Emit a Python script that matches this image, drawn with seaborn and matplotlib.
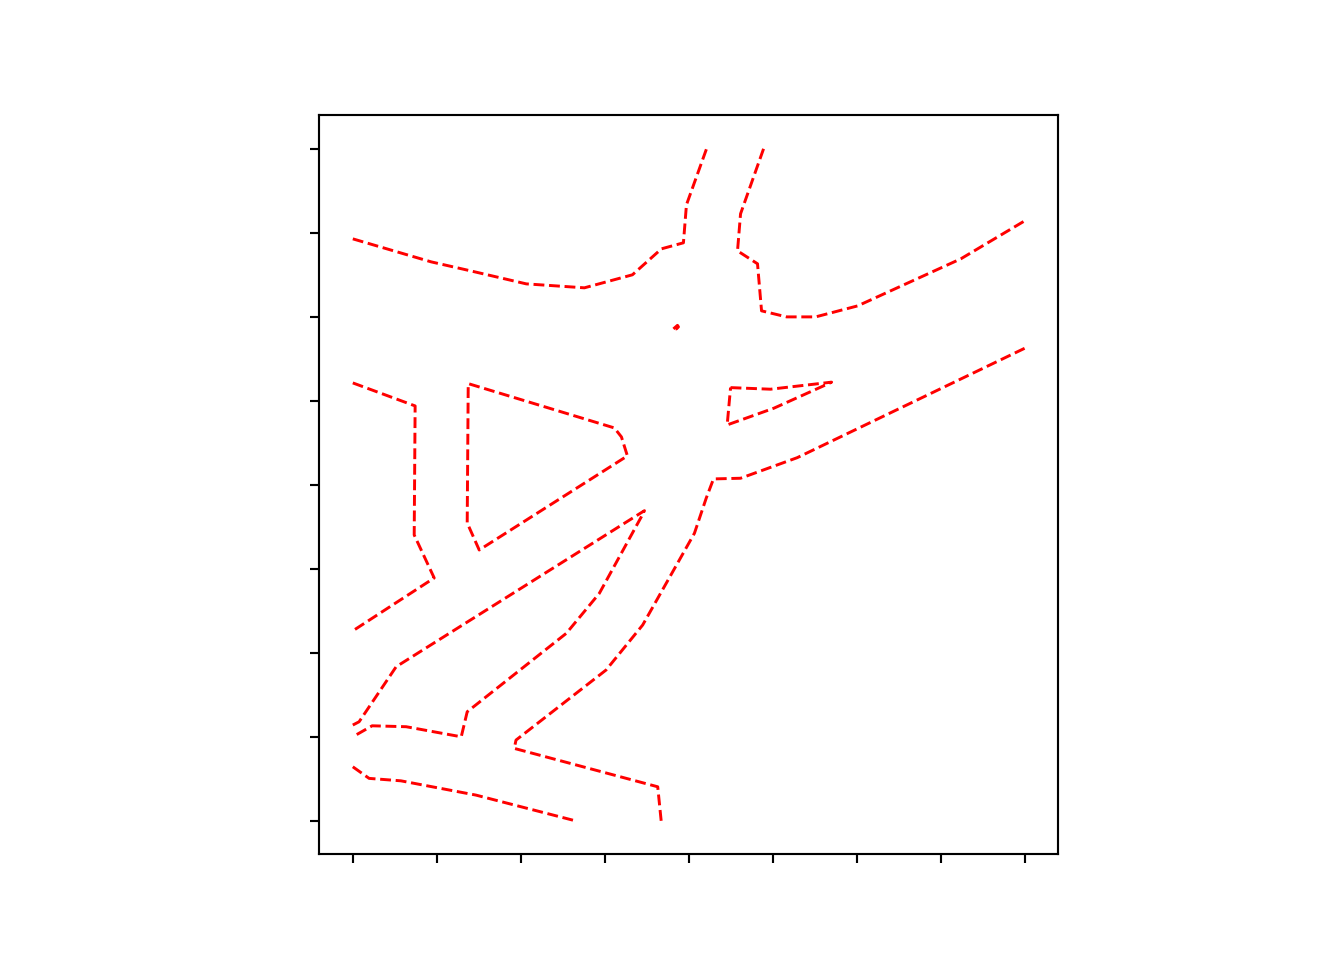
import matplotlib
matplotlib.use("Agg")
import matplotlib.pyplot as plt
import seaborn as sns
import pandas as pd

# Contour line vertices (data units)
a_x = [0.0, 0.933, 1.350, 2.065, 2.757, 3.329, 3.674, 3.936, 3.972, 4.211]
a_y = [6.928, 6.654, 6.559, 6.392, 6.345, 6.500, 6.809, 6.881, 7.333, 8.0]

b_x = [4.890, 4.616, 4.580, 4.818, 4.866, 5.164, 5.510, 6.010, 7.238, 8.0]
b_y = [8.0, 7.226, 6.785, 6.631, 6.071, 5.999, 5.999, 6.130, 6.690, 7.143]

dot_x = [3.817, 3.865, 3.877, 3.853, 3.817]
dot_y = [5.856, 5.898, 5.880, 5.856, 5.856]

c_x = [0.0, 0.742, 0.731, 0.969, 0.015, 0.0]
c_y = [5.213, 4.939, 3.403, 2.891, 2.271, 2.236]

d_x = [1.386, 3.114, 3.198, 3.269, 1.505, 1.362, 1.374, 1.386]
d_y = [5.201, 4.677, 4.570, 4.344, 3.224, 3.546, 5.189, 5.201]

e_x = [0.0, 0.075, 0.516, 3.472, 3.436, 2.935, 2.542, 1.362, 1.291, 0.635, 0.230, 0.0]
e_y = [1.140, 1.179, 1.834, 3.692, 3.621, 2.708, 2.232, 1.298, 1.000, 1.120, 1.131, 1.000]

f_x = [0.0, 0.194, 0.572, 1.466, 2.649]
f_y = [0.643, 0.505, 0.476, 0.306, 0.0]

g_x = [3.671, 3.630, 1.922, 1.943, 3.015, 3.451, 4.067, 4.207, 4.294, 4.616, 5.291, 8.0]
g_y = [0.0, 0.405, 0.862, 0.961, 1.795, 2.331, 3.423, 3.840, 4.070, 4.078, 4.323, 5.626]

h_x = [4.497, 4.973, 5.700, 5.629, 5.013, 4.457, 4.497]
h_y = [5.157, 5.138, 5.222, 5.189, 4.912, 4.713, 5.157]

ticks = list(range(0, 9))

segments = {"a": (a_x, a_y), "b": (b_x, b_y), "dot": (dot_x, dot_y),
            "c": (c_x, c_y), "d": (d_x, d_y), "e": (e_x, e_y),
            "f": (f_x, f_y), "g": (g_x, g_y), "h": (h_x, h_y)}

frames = []
for name, (xs, ys) in segments.items():
    frames.append(pd.DataFrame({"x": xs, "y": ys, "seg": name}))
df = pd.concat(frames, ignore_index=True)

fig = plt.figure(figsize=(7, 5), dpi=192)
ax = fig.add_subplot(111)
sns.lineplot(data=df, x="x", y="y", units="seg", estimator=None, sort=False,
             color="red", linestyle="--", linewidth=1.1, ax=ax, legend=False)

ax.set_xlim(-0.4, 8.4)
ax.set_ylim(-0.4, 8.4)
ax.set_aspect("equal")
ax.set_xticks(ticks)
ax.set_yticks(ticks)
ax.set_xticklabels([])
ax.set_yticklabels([])
ax.set_xlabel("")
ax.set_ylabel("")

fig.savefig("out.png", dpi=192)
